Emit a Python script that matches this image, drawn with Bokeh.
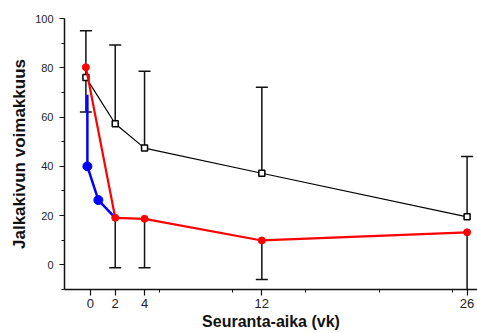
from bokeh.plotting import figure
from bokeh.models import FixedTicker, Range1d, Title
from bokeh.embed import file_html
from bokeh.resources import INLINE

# --- data ---
weeks = [0, 2, 4, 12, 26]
black_y = [76.1, 57.3, 47.4, 37.2, 19.5]
black_err_up = [18.9, 31.9, 31.2, 34.9, 24.5]
red_y = [80.2, 19.1, 18.7, 9.9, 13.2]
red_err_down = [18.2, 20.3, 19.9, 15.8, 27.0]
blue_x = [0.1, 0.85, 2]
blue_y = [40.0, 26.3, 19.1]
blue_err_up = [29.0]

x_ticks = [0.3, 2, 4, 12, 26]
x_labels = ["0", "2", "4", "12", "26"]
x_minor = [5, 10, 15, 20, 25]
y_ticks = [0, 20, 40, 60, 80, 100]
y_minor = [-10, 10, 30, 50, 70, 90]
x_title = "Seuranta-aika (vk)"
y_title = "Jalkakivun voimakkuus"

FONT = "Liberation Sans"

p = figure(width=477, height=333, x_range=Range1d(-1.46, 26.71), y_range=Range1d(-10, 100),
           output_backend="svg", toolbar_location=None,
           min_border_left=64, min_border_right=0, min_border_top=18, min_border_bottom=44)
p.outline_line_color = None
p.grid.visible = False
p.background_fill_color = "white"

for ax in (p.xaxis[0], p.yaxis[0]):
    ax.axis_line_width = 1.5
    ax.axis_line_color = "#111111"
    ax.major_tick_line_color = "#111111"
    ax.minor_tick_line_color = "#111111"
    ax.major_tick_line_width = 1.2
    ax.major_tick_in = 0
    ax.minor_tick_in = 0
    ax.major_label_text_font = FONT
    ax.major_label_text_color = "#222222"

p.xaxis.ticker = FixedTicker(ticks=x_ticks, minor_ticks=x_minor)
p.xaxis.major_label_overrides = {t: l for t, l in zip(x_ticks, x_labels)}
p.xaxis.major_tick_out = 6
p.xaxis.minor_tick_out = 3
p.xaxis.major_label_text_font_size = "13px"
p.xaxis.major_label_standoff = 3

p.yaxis.ticker = FixedTicker(ticks=y_ticks, minor_ticks=y_minor)
p.yaxis.major_tick_out = 5
p.yaxis.minor_tick_out = 3
p.yaxis.major_label_text_font_size = "11px"
p.yaxis.major_label_standoff = 6

# error bars (black upward from black series, black downward from red series)
b_top = [y + e for y, e in zip(black_y, black_err_up)]
r_bot = [y - e for y, e in zip(red_y, red_err_down)]
p.segment(x0=weeks, y0=black_y, x1=weeks, y1=b_top, line_color="#111111", line_width=1.5)
p.dash(x=weeks, y=b_top, size=12, line_color="#111111", line_width=1.5)
p.segment(x0=weeks, y0=red_y, x1=weeks, y1=r_bot, line_color="#111111", line_width=1.5)
p.dash(x=weeks, y=r_bot, size=12, line_color="#111111", line_width=1.5)

# blue series
p.segment(x0=blue_x[:1], y0=blue_y[:1], x1=blue_x[:1],
          y1=[blue_y[0] + blue_err_up[0]], line_color="#0000ff", line_width=2.5)
p.line(blue_x, blue_y, line_color="#0000ff", line_width=2.5)
p.scatter(blue_x[:2], blue_y[:2], size=9, marker="circle", fill_color="#0000ff", line_color="#0000ff")

# black series
p.line(weeks, black_y, line_color="#000000", line_width=1.2)
p.scatter(weeks, black_y, size=6, marker="square", fill_color="white", line_color="#000000", line_width=1.5)

# red series
p.line(weeks, red_y, line_color="#ff0000", line_width=2.2)
p.scatter(weeks, red_y, size=7, marker="circle", fill_color="#ff0000", line_color="#ff0000")

# axis titles
p.add_layout(Title(text=x_title, align="center", offset=-21,
                   text_font=FONT, text_font_size="16px", text_font_style="bold",
                   text_color="#111111", standoff=0), "below")
p.add_layout(Title(text=y_title, align="center", offset=-16,
                   text_font=FONT, text_font_size="17px", text_font_style="bold",
                   text_color="#111111", standoff=8), "left")

open("out.html", "w").write(file_html(p, INLINE))
